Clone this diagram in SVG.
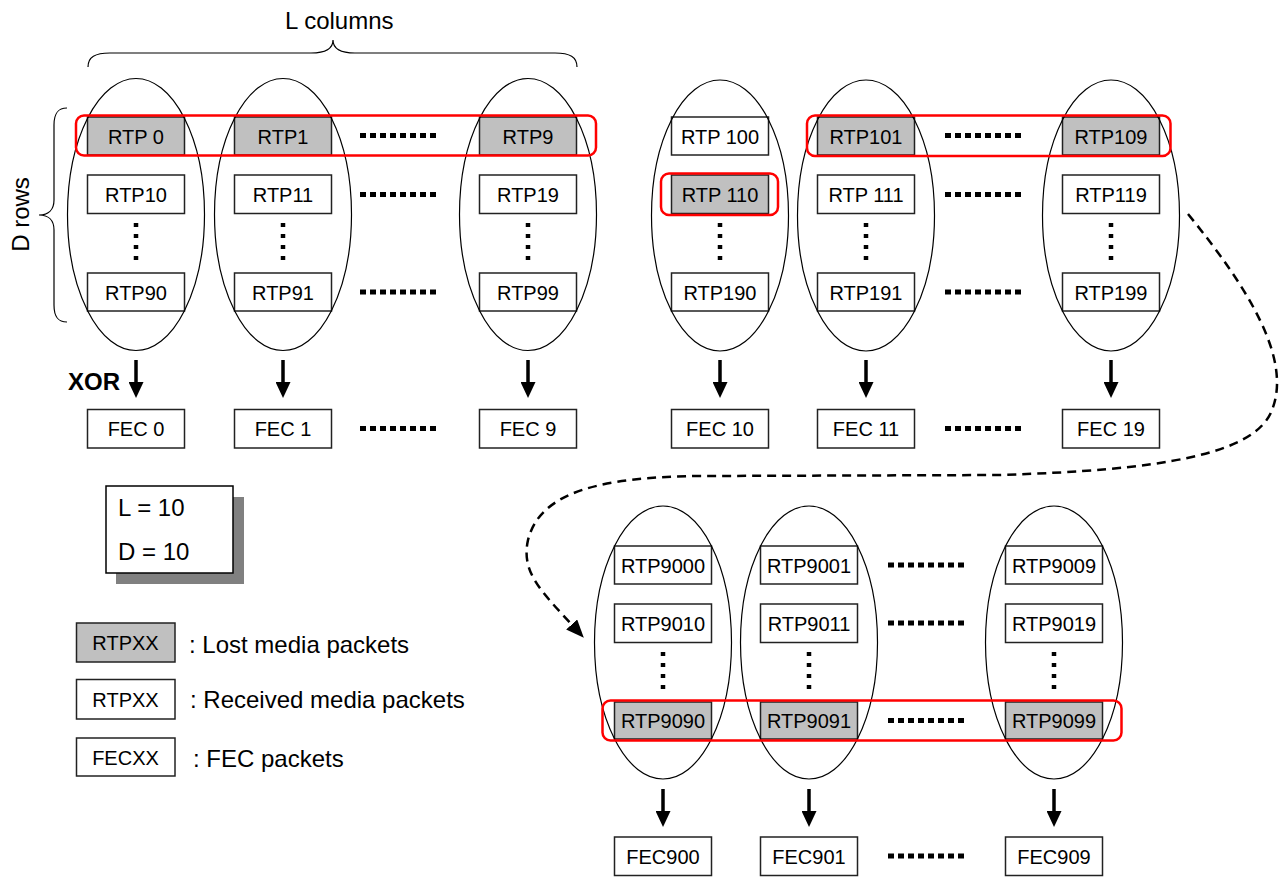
<svg xmlns="http://www.w3.org/2000/svg" width="1280" height="877" viewBox="0 0 1280 877">
<style>
text{font-family:"Liberation Sans",Arial,sans-serif;fill:#000}
.b{fill:#fff;stroke:#222;stroke-width:1.5}
.l{fill:#c0c0c0;stroke:#222;stroke-width:1.5}
.t{font-size:20px;text-anchor:middle}
.e{fill:none;stroke:#000;stroke-width:1.2}
.r{fill:none;stroke:#ff0000;stroke-width:2.5}
.hd{stroke:#000;stroke-width:5;stroke-dasharray:6 4}
.vd{stroke:#000;stroke-width:4.5;stroke-dasharray:4 7}
.ar{stroke:#000;stroke-width:3.5;marker-end:url(#ah)}
.br{fill:none;stroke:#000;stroke-width:1.2}
.big{font-size:24px}
</style>
<defs>
<marker id="ah" viewBox="0 0 16 15" refX="3" refY="7.5" markerWidth="16" markerHeight="15" markerUnits="userSpaceOnUse" orient="auto"><path d="M0,0 L16,7.5 L0,15 z" fill="#000"/></marker>
<marker id="ah2" viewBox="0 0 18 15" refX="2" refY="7.5" markerWidth="18" markerHeight="15" markerUnits="userSpaceOnUse" orient="auto"><path d="M0,0 L18,7.5 L0,15 z" fill="#000"/></marker>
</defs>
<rect width="1280" height="877" fill="#fff"/>

<!-- Braces and labels -->
<g id="label-L">
<path class="br" d="M88,67 C88,57 95,53 110,53 L311,53 C326,53 333,48 333,40 C333,48 340,53 355,53 L555,53 C570,53 577,57 577,67"/>
<text class="big" x="285" y="29">L columns</text>
</g>
<g id="label-D">
<path class="br" d="M67,108 C58,108 54,113 54,125 L54,200 C54,210 48,215 39,215 C48,215 54,220 54,230 L54,305 C54,317 58,322 67,322"/>
<text class="big" text-anchor="middle" transform="translate(29,214.5) rotate(-90)">D rows</text>
</g>
<text id="xor" x="68" y="390" style="font-size:24px;font-weight:bold">XOR</text>

<!-- Group 1 boxes -->
<g id="rtp0"><rect class="l" x="87.5" y="117" width="97" height="38"/><text class="t" x="136" y="144">RTP 0</text></g>
<g id="rtp1"><rect class="l" x="234.5" y="117" width="97" height="38"/><text class="t" x="283" y="144">RTP1</text></g>
<g id="rtp9"><rect class="l" x="479.5" y="117" width="97" height="38"/><text class="t" x="528" y="144">RTP9</text></g>
<g id="rtp10"><rect class="b" x="87.5" y="175" width="97" height="38.5"/><text class="t" x="136" y="202">RTP10</text></g>
<g id="rtp11"><rect class="b" x="234.5" y="175" width="97" height="38.5"/><text class="t" x="283" y="202">RTP11</text></g>
<g id="rtp19"><rect class="b" x="479.5" y="175" width="97" height="38.5"/><text class="t" x="528" y="202">RTP19</text></g>
<g id="rtp90"><rect class="b" x="87.5" y="273" width="97" height="38"/><text class="t" x="136" y="300">RTP90</text></g>
<g id="rtp91"><rect class="b" x="234.5" y="273" width="97" height="38"/><text class="t" x="283" y="300">RTP91</text></g>
<g id="rtp99"><rect class="b" x="479.5" y="273" width="97" height="38"/><text class="t" x="528" y="300">RTP99</text></g>
<g id="fec0"><rect class="b" x="87.5" y="409.5" width="97" height="38.5"/><text class="t" x="136" y="436">FEC 0</text></g>
<g id="fec1"><rect class="b" x="234.5" y="409.5" width="97" height="38.5"/><text class="t" x="283" y="436">FEC 1</text></g>
<g id="fec9"><rect class="b" x="479.5" y="409.5" width="97" height="38.5"/><text class="t" x="528" y="436">FEC 9</text></g>

<!-- Group 2 boxes -->
<g id="rtp100"><rect class="b" x="671.5" y="117" width="97" height="38"/><text class="t" x="720" y="144">RTP 100</text></g>
<g id="rtp101"><rect class="l" x="817.5" y="117" width="97" height="38"/><text class="t" x="866" y="144">RTP101</text></g>
<g id="rtp109"><rect class="l" x="1062.5" y="117" width="97" height="38"/><text class="t" x="1111" y="144">RTP109</text></g>
<g id="rtp110"><rect class="l" x="671.5" y="175" width="97" height="38.5"/><text class="t" x="720" y="202">RTP 110</text></g>
<g id="rtp111"><rect class="b" x="817.5" y="175" width="97" height="38.5"/><text class="t" x="866" y="202">RTP 111</text></g>
<g id="rtp119"><rect class="b" x="1062.5" y="175" width="97" height="38.5"/><text class="t" x="1111" y="202">RTP119</text></g>
<g id="rtp190"><rect class="b" x="671.5" y="273" width="97" height="38"/><text class="t" x="720" y="300">RTP190</text></g>
<g id="rtp191"><rect class="b" x="817.5" y="273" width="97" height="38"/><text class="t" x="866" y="300">RTP191</text></g>
<g id="rtp199"><rect class="b" x="1062.5" y="273" width="97" height="38"/><text class="t" x="1111" y="300">RTP199</text></g>
<g id="fec10"><rect class="b" x="671.5" y="409.5" width="97" height="38.5"/><text class="t" x="720" y="436">FEC 10</text></g>
<g id="fec11"><rect class="b" x="817.5" y="409.5" width="97" height="38.5"/><text class="t" x="866" y="436">FEC 11</text></g>
<g id="fec19"><rect class="b" x="1062.5" y="409.5" width="97" height="38.5"/><text class="t" x="1111" y="436">FEC 19</text></g>

<!-- Group 3 boxes -->
<g id="rtp9000"><rect class="b" x="614.5" y="546" width="97" height="38"/><text class="t" x="663" y="573">RTP9000</text></g>
<g id="rtp9001"><rect class="b" x="760.5" y="546" width="97" height="38"/><text class="t" x="809" y="573">RTP9001</text></g>
<g id="rtp9009"><rect class="b" x="1005.5" y="546" width="97" height="38"/><text class="t" x="1054" y="573">RTP9009</text></g>
<g id="rtp9010"><rect class="b" x="614.5" y="604" width="97" height="38.5"/><text class="t" x="663" y="631">RTP9010</text></g>
<g id="rtp9011"><rect class="b" x="760.5" y="604" width="97" height="38.5"/><text class="t" x="809" y="631">RTP9011</text></g>
<g id="rtp9019"><rect class="b" x="1005.5" y="604" width="97" height="38.5"/><text class="t" x="1054" y="631">RTP9019</text></g>
<g id="rtp9090"><rect class="l" x="614.5" y="702" width="97" height="37"/><text class="t" x="663" y="728">RTP9090</text></g>
<g id="rtp9091"><rect class="l" x="760.5" y="702" width="97" height="37"/><text class="t" x="809" y="728">RTP9091</text></g>
<g id="rtp9099"><rect class="l" x="1005.5" y="702" width="97" height="37"/><text class="t" x="1054" y="728">RTP9099</text></g>
<g id="fec900"><rect class="b" x="614.5" y="837" width="97" height="38.5"/><text class="t" x="663" y="864">FEC900</text></g>
<g id="fec901"><rect class="b" x="760.5" y="837" width="97" height="38.5"/><text class="t" x="809" y="864">FEC901</text></g>
<g id="fec909"><rect class="b" x="1005.5" y="837" width="97" height="38.5"/><text class="t" x="1054" y="864">FEC909</text></g>

<!-- Column ellipses -->
<g id="columns">
<ellipse class="e" cx="136" cy="214.5" rx="68.5" ry="136"/>
<ellipse class="e" cx="283" cy="214.5" rx="68.5" ry="136"/>
<ellipse class="e" cx="528" cy="214.5" rx="68.5" ry="136"/>
<ellipse class="e" cx="720" cy="215.5" rx="68.5" ry="135.5"/>
<ellipse class="e" cx="866" cy="215.5" rx="68.5" ry="135.5"/>
<ellipse class="e" cx="1111" cy="215.5" rx="68.5" ry="135.5"/>
<ellipse class="e" cx="663" cy="642.5" rx="68.5" ry="136.5"/>
<ellipse class="e" cx="809" cy="642.5" rx="68.5" ry="136.5"/>
<ellipse class="e" cx="1054" cy="642.5" rx="68.5" ry="136.5"/>
</g>

<!-- Lost-row highlights -->
<g id="highlights">
<rect class="r" x="76" y="115.5" width="520" height="40" rx="8"/>
<rect class="r" x="807" y="115.5" width="363.5" height="40.5" rx="8"/>
<rect class="r" x="661" y="173.5" width="117" height="41.5" rx="8"/>
<rect class="r" x="602.5" y="700.5" width="519" height="40" rx="8"/>
</g>

<!-- Ellipsis dots -->
<g id="dots">
<line class="hd" x1="360" y1="135.5" x2="438" y2="135.5"/>
<line class="hd" x1="360" y1="194.5" x2="438" y2="194.5"/>
<line class="hd" x1="360" y1="292" x2="438" y2="292"/>
<line class="hd" x1="360" y1="428.5" x2="438" y2="428.5"/>
<line class="hd" x1="945" y1="135.5" x2="1023" y2="135.5"/>
<line class="hd" x1="945" y1="194.5" x2="1023" y2="194.5"/>
<line class="hd" x1="945" y1="292" x2="1023" y2="292"/>
<line class="hd" x1="945" y1="428.5" x2="1023" y2="428.5"/>
<line class="hd" x1="888" y1="565" x2="966" y2="565"/>
<line class="hd" x1="888" y1="623" x2="966" y2="623"/>
<line class="hd" x1="888" y1="720.5" x2="966" y2="720.5"/>
<line class="hd" x1="888" y1="856" x2="966" y2="856"/>
<line class="vd" x1="136" y1="223" x2="136" y2="260"/>
<line class="vd" x1="283" y1="223" x2="283" y2="260"/>
<line class="vd" x1="528" y1="223" x2="528" y2="260"/>
<line class="vd" x1="720" y1="223" x2="720" y2="260"/>
<line class="vd" x1="866" y1="223" x2="866" y2="260"/>
<line class="vd" x1="1111" y1="223" x2="1111" y2="260"/>
<line class="vd" x1="663" y1="652" x2="663" y2="689"/>
<line class="vd" x1="809" y1="652" x2="809" y2="689"/>
<line class="vd" x1="1054" y1="652" x2="1054" y2="689"/>
</g>

<!-- Connectors -->
<g id="connectors">
<line class="ar" x1="136" y1="360" x2="136" y2="385"/>
<line class="ar" x1="283" y1="360" x2="283" y2="385"/>
<line class="ar" x1="528" y1="360" x2="528" y2="385"/>
<line class="ar" x1="720" y1="360" x2="720" y2="385"/>
<line class="ar" x1="866" y1="360" x2="866" y2="385"/>
<line class="ar" x1="1111" y1="360" x2="1111" y2="385"/>
<line class="ar" x1="663" y1="789" x2="663" y2="814"/>
<line class="ar" x1="809" y1="789" x2="809" y2="814"/>
<line class="ar" x1="1054" y1="789" x2="1054" y2="814"/>
<path d="M1188,214 C1250,290 1292,360 1272,410 C1255,455 1160,470 1000,475 L700,476 C600,477 540,492 528,540 C521,572 540,590 573,626" fill="none" stroke="#000" stroke-width="2.5" stroke-dasharray="9 6" marker-end="url(#ah2)"/>
</g>

<!-- Legend -->
<g id="params">
<rect x="116" y="497" width="128" height="87" fill="#808080"/>
<rect x="106" y="486" width="127" height="87" fill="#fff" stroke="#000" stroke-width="1.5"/>
<text class="big" x="118" y="516">L = 10</text>
<text class="big" x="118" y="560">D = 10</text>
</g>
<g id="legend-lost"><rect class="l" x="76.5" y="623" width="98.5" height="39"/><text class="t" x="125.5" y="650">RTPXX</text><text class="big" x="189" y="653">: Lost media packets</text></g>
<g id="legend-received"><rect class="b" x="76.5" y="679.5" width="98.5" height="39.5"/><text class="t" x="125.5" y="707">RTPXX</text><text class="big" x="190" y="708">: Received media packets</text></g>
<g id="legend-fec"><rect class="b" x="76.5" y="738" width="98.5" height="38"/><text class="t" x="125.5" y="765">FECXX</text><text class="big" x="193" y="767">: FEC packets</text></g>
</svg>
